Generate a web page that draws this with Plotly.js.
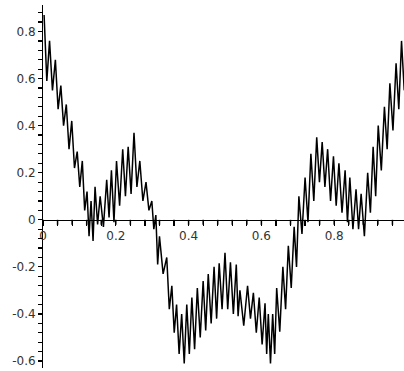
<!DOCTYPE html>
<html>
<head>
<meta charset="utf-8">
<script src="https://cdn.plot.ly/plotly-3.0.1.min.js"></script>
<style>
  html, body { margin: 0; padding: 0; background: #fff; }
  #chart { width: 404px; height: 371px; }
</style>
</head>
<body>
<div id="chart"></div>
<script>
// x position of each oscillation stroke
const strokeX = [0.003, 0.018, 0.034, 0.049, 0.064, 0.079, 0.094, 0.108, 0.121, 0.132,
                 0.143, 0.157, 0.175, 0.188, 0.202, 0.219, 0.234, 0.250, 0.266, 0.283,
                 0.299, 0.310, 0.320, 0.340, 0.354, 0.367, 0.381, 0.395, 0.409, 0.424,
                 0.440, 0.454, 0.470, 0.484, 0.500, 0.515, 0.531, 0.541, 0.562, 0.578,
                 0.594, 0.610, 0.619, 0.631, 0.642, 0.659, 0.674, 0.690, 0.703, 0.720,
                 0.736, 0.752, 0.767, 0.782, 0.798, 0.813, 0.830, 0.843, 0.860, 0.874,
                 0.892, 0.907, 0.921, 0.938, 0.953, 0.970, 0.985];
// top of each stroke
const peakY = [0.87, 0.76, 0.68, 0.57, 0.49, 0.42, 0.29, 0.25, 0.12, 0.08,
               0.14, 0.10, 0.17, 0.21, 0.25, 0.30, 0.31, 0.37, 0.25, 0.16,
               0.08, 0.02, -0.07, -0.16, -0.28, -0.36, -0.40, -0.36, -0.33, -0.29,
               -0.26, -0.23, -0.20, -0.185, -0.14, -0.18, -0.19, -0.30, -0.28, -0.31,
               -0.33, -0.355, -0.40, -0.40, -0.29, -0.20, -0.11, -0.03, 0.10, 0.18,
               0.28, 0.35, 0.33, 0.30, 0.27, 0.24, 0.21, 0.18, 0.13, 0.11,
               0.20, 0.31, 0.40, 0.48, 0.58, 0.665, 0.76];
// bottom of each stroke
const troughY = [0.59, 0.55, 0.47, 0.40, 0.30, 0.22, 0.14, 0.04, -0.07, -0.09,
                 -0.02, -0.03, 0.01, -0.01, 0.06, 0.10, 0.11, 0.14, 0.08, 0.04,
                 -0.04, -0.19, -0.23, -0.38, -0.48, -0.57, -0.61, -0.57, -0.55, -0.50,
                 -0.47, -0.44, -0.42, -0.38, -0.38, -0.40, -0.41, -0.45, -0.42, -0.48,
                 -0.53, -0.57, -0.61, -0.57, -0.475, -0.38, -0.29, -0.20, -0.06, -0.01,
                 0.08, 0.16, 0.14, 0.08, 0.06, 0.03, -0.01, -0.04, -0.04, -0.07,
                 0.03, 0.10, 0.21, 0.30, 0.38, 0.47, 0.55];

const xTickVals = [0, 0.2, 0.4, 0.6, 0.8];
const xTickText = ['0', '0.2', '0.4', '0.6', '0.8'];
const yTickVals = [-0.6, -0.4, -0.2, 0, 0.2, 0.4, 0.6, 0.8];
const yTickText = ['-0.6', '-0.4', '-0.2', '0', '0.2', '0.4', '0.6', '0.8'];

const xs = [], ys = [];
for (let i = 0; i < strokeX.length; i++) {
  xs.push(strokeX[i]); ys.push(peakY[i]);
  const next = i + 1 < strokeX.length ? strokeX[i + 1] : strokeX[i] + 0.015;
  xs.push((strokeX[i] + next) / 2); ys.push(troughY[i]);
}

// tick marks every 0.04; labels only at the labelled values
function tickSet(kFrom, kTo, labVals, labText) {
  const vals = [], text = [];
  for (let k = kFrom; k <= kTo; k++) {
    const v = Math.round(k * 4) / 100;
    vals.push(v);
    const idx = labVals.findIndex(l => Math.abs(l - v) < 1e-9);
    text.push(idx >= 0 ? labText[idx] : '');
  }
  return { vals, text };
}
const xt = tickSet(0, 24, xTickVals, xTickText);
const yt = tickSet(-15, 22, yTickVals, yTickText);

const tickFont = { family: 'DejaVu Sans, Liberation Sans, Arial, sans-serif', size: 12, color: '#333' };

const trace = {
  x: xs, y: ys, type: 'scatter', mode: 'lines',
  line: { color: '#000', width: 1.5, shape: 'linear' },
  hoverinfo: 'skip'
};

// short downward tick marks under the x axis line (axis decoration, placed by the x scale)
const axisPos = 0.4075;
const xTickShapes = xt.vals.map(v => ({
  type: 'line', xref: 'x', yref: 'paper', x0: v, x1: v,
  y0: axisPos, y1: axisPos - 5 / 371,
  line: { color: '#000', width: 1.5 }, layer: 'above'
}));

const layout = {
  width: 404, height: 371,
  margin: { l: 0, r: 0, t: 0, b: 0, pad: 0 },
  paper_bgcolor: '#fff', plot_bgcolor: 'rgba(0,0,0,0)',
  showlegend: false,
  shapes: xTickShapes,
  xaxis: {
    domain: [43 / 404, 1],
    range: [0, 0.9918],
    anchor: 'free', position: axisPos,
    showline: true, linecolor: '#000', linewidth: 1,
    zeroline: false, showgrid: false,
    tickmode: 'array', tickvals: xt.vals, ticktext: xt.text,
    ticks: 'outside', ticklen: 5, tickcolor: '#000', tickwidth: 1.2,
    tickfont: tickFont, layer: 'above traces'
  },
  yaxis: {
    domain: [0.0081, 0.9865],
    range: [-0.6296, 0.9125],
    anchor: 'x',
    showline: true, linecolor: '#000', linewidth: 1,
    zeroline: false, showgrid: false,
    tickmode: 'array', tickvals: yt.vals, ticktext: yt.text,
    ticks: 'outside', ticklen: 4, tickcolor: '#000', tickwidth: 1.2,
    tickfont: tickFont, layer: 'above traces'
  }
};

Plotly.newPlot('chart', [trace], layout, { displayModeBar: false, staticPlot: true });
</script>
</body>
</html>
